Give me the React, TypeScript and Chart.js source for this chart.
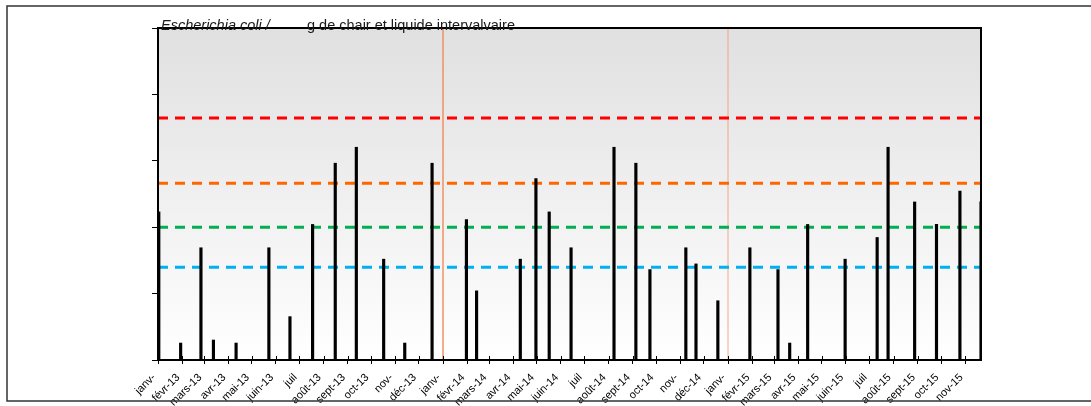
import React, { useEffect, useRef } from "react";
import { Chart, registerables } from "chart.js";

Chart.register(...registerables);

// Month tick labels (as printed on the axis)
const monthLabels = [
  "janv-", "févr-13", "mars-13", "avr-13", "mai-13", "juin-13", "juil", "août-13", "sept-13", "oct-13", "nov-", "déc-13",
  "janv-", "févr-14", "mars-14", "avr-14", "mai-14", "juin-14", "juil", "août-14", "sept-14", "oct-14", "nov-", "déc-14",
  "janv-", "févr-15", "mars-15", "avr-15", "mai-15", "juin-15", "juil", "août-15", "sept-15", "oct-15", "nov-15",
];

// Sampling dates
const sampleDates = [
  "2013-01-02", "2013-01-30", "2013-02-25", "2013-03-13", "2013-04-11", "2013-05-23",
  "2013-06-19", "2013-07-18", "2013-08-16", "2013-09-12", "2013-10-17", "2013-11-13",
  "2013-12-18", "2014-01-31", "2014-02-13", "2014-04-10", "2014-04-30", "2014-05-17",
  "2014-06-14", "2014-08-08", "2014-09-05", "2014-09-23", "2014-11-08", "2014-11-21",
  "2014-12-19", "2015-01-29", "2015-03-06", "2015-03-21", "2015-04-13", "2015-05-31",
  "2015-07-11", "2015-07-25", "2015-08-28", "2015-09-25", "2015-10-25", "2015-11-21",
];

// E. coli / 100 g values
const ecoliValues = [
  1700, 18, 490, 20, 18, 490,
  45, 1100, 9200, 16000, 330, 18,
  9200, 1300, 110, 330, 5400, 1700,
  490, 16000, 9200, 230, 490, 280,
  78, 490, 230, 18, 1100, 330,
  700, 16000, 2400, 1100, 3500, 2400,
];

// Threshold lines
const thresholdValues = [44000, 4600, 1000, 250];
const thresholdColors = ["#FF0000", "#FF6600", "#00B050", "#00B0F0"];

// Year separators
const yearBoundaries = ["2014-01-01", "2015-01-01"];
const yearBoundaryColors = ["rgba(240,140,90,0.95)", "rgba(240,150,110,0.8)"];

// Log-axis ticks
const yTickValues = [10, 100, 1000, 10000, 100000, 1000000];

const TITLE_ITALIC = "Escherichia coli / ";
const TITLE_REST = "g de chair et liquide intervalvaire";

const ORIGIN = Date.UTC(2013, 0, 1);
function dayOf(s: string): number {
  const [y, m, d] = s.split("-").map(Number);
  return (Date.UTC(y, m - 1, d) - ORIGIN) / 86400000;
}
const monthStarts = monthLabels.map((_, i) => (Date.UTC(2013, i, 1) - ORIGIN) / 86400000);

export default function App() {
  const ref = useRef<HTMLCanvasElement>(null);

  useEffect(() => {
    const xMin = 0;
    const xMax = dayOf(sampleDates[sampleDates.length - 1]);

    const decorPlugin = {
      id: "decor",
      beforeDraw(chart: any) {
        const { ctx, chartArea: a } = chart;
        ctx.save();
        const g = ctx.createLinearGradient(0, a.top, 0, a.bottom);
        g.addColorStop(0, "#E0E0E0");
        g.addColorStop(1, "#FFFFFF");
        ctx.fillStyle = g;
        ctx.fillRect(a.left, a.top, a.right - a.left, a.bottom - a.top);
        ctx.restore();
      },
      beforeDatasetsDraw(chart: any) {
        const { ctx, chartArea: a, scales } = chart;
        ctx.save();
        yearBoundaries.forEach((d, i) => {
          const x = scales.x.getPixelForValue(dayOf(d));
          ctx.strokeStyle = yearBoundaryColors[i];
          ctx.lineWidth = i === 0 ? 1.5 : 1;
          ctx.beginPath();
          ctx.moveTo(x, a.top);
          ctx.lineTo(x, a.bottom);
          ctx.stroke();
        });
        ctx.restore();
      },
      afterDraw(chart: any) {
        const { ctx, chartArea: a, scales } = chart;
        ctx.save();
        // inner part of x ticks
        ctx.strokeStyle = "#000";
        ctx.lineWidth = 1;
        scales.x.ticks.forEach((t: any) => {
          const x = Math.round(scales.x.getPixelForValue(t.value)) + 0.5;
          ctx.beginPath();
          ctx.moveTo(x, a.bottom - 4);
          ctx.lineTo(x, a.bottom);
          ctx.stroke();
        });
        // plot frame
        ctx.lineWidth = 2;
        ctx.strokeStyle = "#000";
        ctx.strokeRect(a.left, a.top, a.right - a.left, a.bottom - a.top);
        // outer frame
        ctx.lineWidth = 1.5;
        ctx.strokeStyle = "#333";
        ctx.strokeRect(7, 6, 1200, 395);
        // title
        ctx.fillStyle = "#1a1a1a";
        ctx.textBaseline = "alphabetic";
        ctx.font = 'italic 14.5px "Liberation Sans", Arial, sans-serif';
        ctx.fillText(TITLE_ITALIC, 161, 30);
        ctx.font = '14.5px "Liberation Sans", Arial, sans-serif';
        ctx.fillText(TITLE_REST, 307, 30);
        ctx.restore();
      },
    };

    const chart = new Chart(ref.current!, {
      type: "bar",
      data: {
        datasets: [
          {
            type: "bar",
            data: sampleDates.map((d, i) => ({ x: dayOf(d), y: ecoliValues[i] })),
            backgroundColor: "#000",
            borderWidth: 0,
            barThickness: 2.5,
            order: 0,
          } as any,
          ...thresholdValues.map((v, i) => ({
            type: "line",
            data: [
              { x: xMin, y: v },
              { x: xMax, y: v },
            ],
            borderColor: thresholdColors[i],
            borderWidth: 3,
            borderDash: [10, 7],
            pointRadius: 0,
            fill: false,
            order: 1,
          })) as any,
        ],
      },
      options: {
        responsive: false,
        animation: false,
        devicePixelRatio: 1,
        layout: { padding: { left: 0, top: 28, right: 110, bottom: 0 } },
        plugins: { legend: { display: false }, tooltip: { enabled: false } },
        scales: {
          x: {
            type: "linear",
            min: xMin,
            max: xMax,
            bounds: "data",
            offset: false,
            afterBuildTicks: (scale: any) => {
              scale.ticks = monthStarts.map((v) => ({ value: v }));
            },
            afterFit: (scale: any) => {
              scale.height = 46;
            },
            ticks: {
              autoSkip: false,
              maxRotation: 45,
              minRotation: 45,
              padding: 7,
              labelOffset: -4,
              color: "#000",
              font: { family: '"Liberation Sans", Arial, sans-serif', size: 11 },
              callback: (_v: any, i: number) => monthLabels[i] ?? "",
            },
            grid: { display: true, drawOnChartArea: false, drawTicks: true, tickLength: 4, color: "#000", offset: false },
            border: { display: true, color: "#000", width: 2 },
          },
          y: {
            type: "logarithmic",
            min: 10,
            max: 1000000,
            afterBuildTicks: (scale: any) => {
              scale.ticks = yTickValues.map((v) => ({ value: v }));
            },
            afterFit: (scale: any) => {
              scale.width = 158;
            },
            ticks: { display: false },
            grid: { display: true, drawOnChartArea: false, drawTicks: true, tickLength: 6, color: "#000" },
            border: { display: true, color: "#000", width: 2 },
          },
        },
      },
      plugins: [decorPlugin],
    } as any);
    return () => chart.destroy();
  }, []);

  return (
    <div style={{ position: "absolute", left: 0, top: 0, width: 1091, height: 406 }}>
      <canvas ref={ref} width={1091} height={406} style={{ width: 1091, height: 406, display: "block" }} />
    </div>
  );
}
